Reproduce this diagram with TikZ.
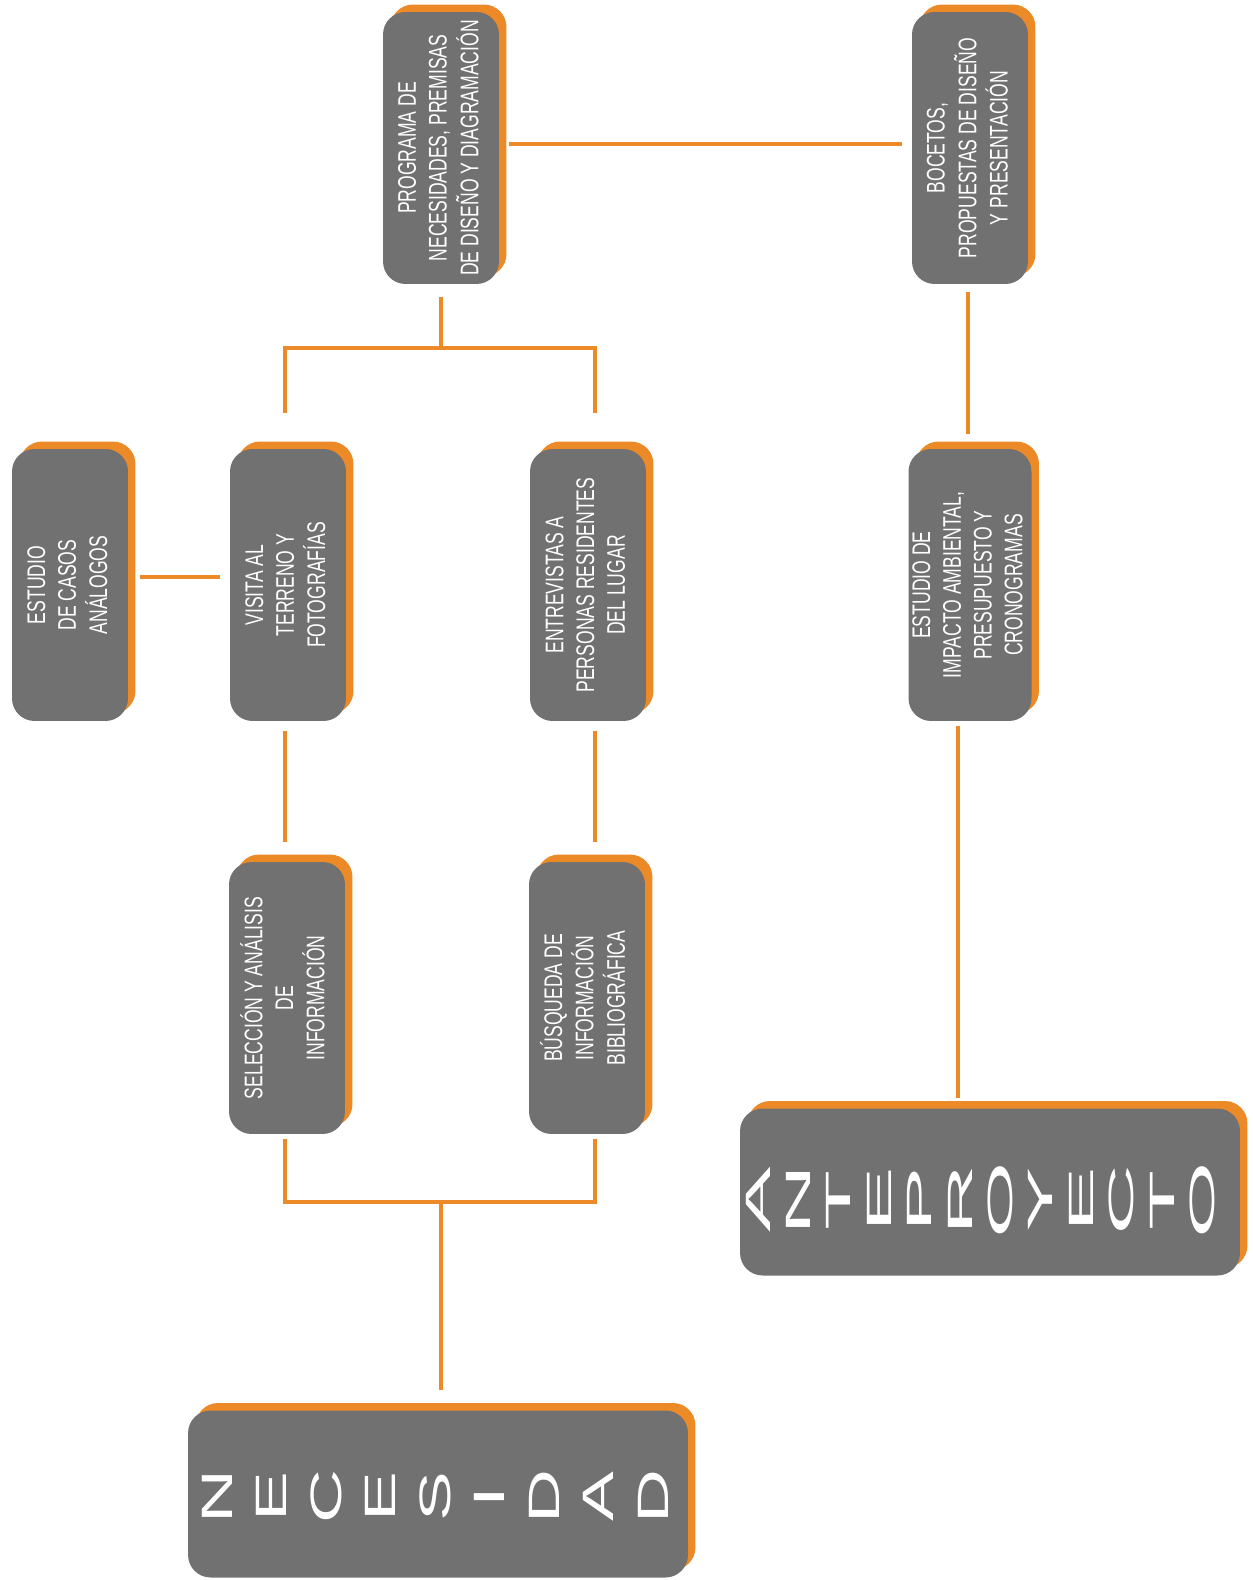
\documentclass[tikz,border=0pt]{standalone}
\usepackage{fontspec}
\setmainfont[FakeStretch=0.69]{Liberation Sans}
\newfontfamily\bigletters{Liberation Sans}
\usepackage{tikz}
\usetikzlibrary{calc, shadows}
\definecolor{boxgray}{HTML}{717171}
\definecolor{lineorange}{HTML}{EC8A27}
\newcommand{\vtext}[1]{\rotatebox{90}{\begin{tabular}{@{}c@{}}#1\end{tabular}}}
\tikzset{
  box/.style={fill=boxgray, rounded corners=0.45cm, text=white, inner sep=0pt,
    minimum width=2.32cm, minimum height=5.44cm, font=\fontsize{14.5}{17.5}\selectfont,
    copy shadow={shadow xshift=0.15cm, shadow yshift=0.15cm, fill=lineorange, draw=none}},
  bigbox/.style={box, minimum width=10cm, minimum height=3.34cm},
  bigletter/.style={text=white, rotate=90, inner sep=0pt, font=\bigletters\fontsize{25}{25}\selectfont},
  smallletter/.style={bigletter, font=\bigletters\fontsize{20}{20}\selectfont},
  link/.style={draw=lineorange, line width=2.8pt}
}

\begin{document}
\begin{tikzpicture}[x=0.02cm, y=-0.02cm]
\useasboundingbox (0,0) rectangle (1252,1580);
% top row
\node [box] (prog) at (441,148) {\vtext{PROGRAMA DE\\NECESIDADES, PREMISAS\\DE DISEÑO Y DIAGRAMACIÓN}};
\node [box] (boc) at (970,148) {\vtext{BOCETOS,\\PROPUESTAS DE DISEÑO\\Y PRESENTACIÓN}};
% middle row
\node [box] (casos) at (70,585) {\vtext{ESTUDIO\\DE CASOS\\ANÁLOGOS}};
\node [box] (visita) at (288,585) {\vtext{VISITA AL\\TERRENO Y\\FOTOGRAFÍAS}};
\node [box] (entrev) at (588,585) {\vtext{ENTREVISTAS A\\PERSONAS RESIDENTES\\DEL LUGAR}};
\node [box] (imp) at (970,585) {\vtext{ESTUDIO DE\\IMPACTO AMBIENTAL,\\PRESUPUESTO Y\\CRONOGRAMAS}};
% lower row
\node [box] (selec) at (287,998) {\vtext{SELECCIÓN Y ANÁLISIS\\DE\\INFORMACIÓN}};
\node [box] (busq) at (587,998) {\vtext{BÚSQUEDA DE\\INFORMACIÓN\\BIBLIOGRÁFICA}};
% big words
\node [bigbox] (antep) at (990,1192) {};
\foreach \l [count=\i] in {A,N,T,E,P,R,O,Y,E,C,T,O}
  \node [smallletter] (ant\i) at ({758+40.4*(\i-1)},1200) {\scalebox{2.8}[1]{\l}};
\node [bigbox] (neces) at (438,1494) {};
\foreach \l [count=\i] in {N,E,C,E,S,I,D,A,D}
  \node [bigletter] (nec\i) at ({217+54.5*(\i-1)},1497) {\scalebox{1.7}[1]{\l}};
% connectors
\coordinate (topfork) at (441,348);
\coordinate (botfork) at (441,1202);
\draw [link] ($(prog.east)+(10,-4)$) -- ($(boc.west)+(-10,-4)$);
\draw [link] ($(prog.south)+(0,13)$) -- (topfork);
\draw [link] ($(visita.north)+(-3,-36)$) |- (topfork) -| ($(entrev.north)+(7,-36)$);
\draw [link] ($(casos.east)+(12,-8)$) -- ($(visita.west)+(-10,-8)$);
\draw [link] ($(visita.south)+(-3,10)$) -- ($(selec.north)+(-2,-20)$);
\draw [link] ($(entrev.south)+(7,10)$) -- ($(busq.north)+(8,-20)$);
\draw [link] ($(selec.south)+(-2,5)$) |- (botfork) -| ($(busq.south)+(8,5)$);
\draw [link] (botfork) -- ($(neces.north)+(3,-20)$);
\draw [link] ($(boc.south)+(-2,8)$) -- ($(imp.north)+(-2,-15)$);
\draw [link] ($(imp.south)+(-12,5)$) -- ++(0,372);
\end{tikzpicture}
\end{document}
